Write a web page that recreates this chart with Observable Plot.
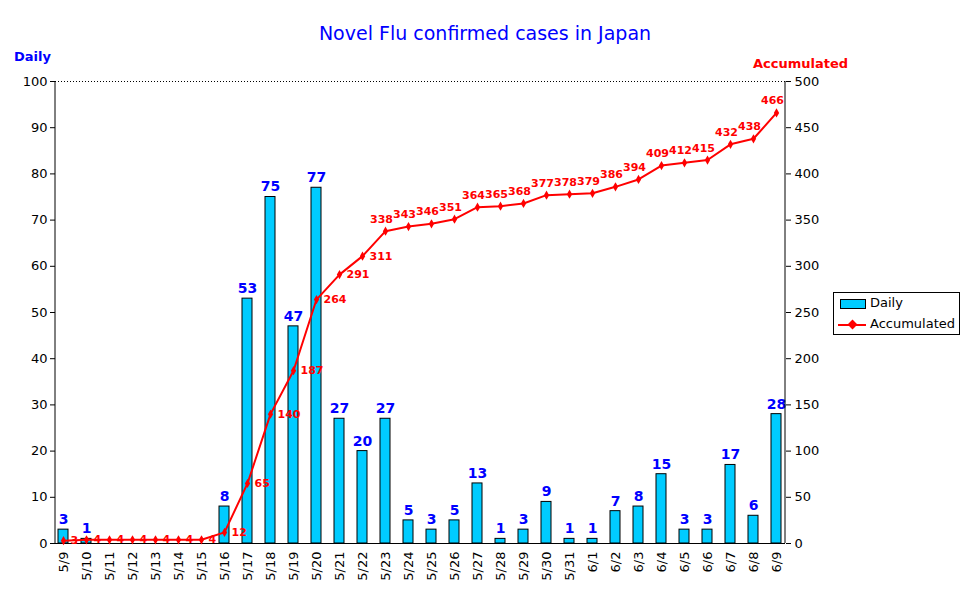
<!DOCTYPE html><html><head><meta charset="utf-8">
<script src="https://cdn.jsdelivr.net/npm/d3@7"></script>
<script src="https://cdn.jsdelivr.net/npm/@observablehq/plot@0.6"></script>
<style>body{margin:0;background:#fff;font-family:"DejaVu Sans",sans-serif}#w{position:relative;width:970px;height:604px}
.t{position:absolute;white-space:nowrap}</style></head><body><div id="w">
<div class="t" style="left:0;width:970px;top:22px;text-align:center;color:#0000ff;font-size:19px">Novel Flu confirmed cases in Japan</div>
<div class="t" style="left:14px;top:49px;color:#0000ff;font-size:13px;font-weight:bold">Daily</div>
<div class="t" style="left:753px;top:56px;color:#ff0000;font-size:13px;font-weight:bold">Accumulated</div>
<div class="t" style="left:833px;top:292px;width:125px;height:41px;border:1px solid #000;background:#fff;font-size:13px">
<div style="position:absolute;left:6px;top:6px;width:24px;height:8px;background:#00ccff;border:1px solid #000"></div><div style="position:absolute;left:36px;top:2px">Daily</div>
<div style="position:absolute;left:4px;top:31px;width:28px;height:2px;background:#f00"></div><div style="position:absolute;left:15px;top:28px;width:7px;height:7px;background:#f00;transform:rotate(45deg)"></div><div style="position:absolute;left:36px;top:23px">Accumulated</div>
</div>
<div id="c" style="position:absolute;left:0;top:0"></div></div>
<script>
const dates=["5/9","5/10","5/11","5/12","5/13","5/14","5/15","5/16","5/17","5/18","5/19","5/20","5/21","5/22","5/23","5/24","5/25","5/26","5/27","5/28","5/29","5/30","5/31","6/1","6/2","6/3","6/4","6/5","6/6","6/7","6/8","6/9"];
const daily=[3,1,0,0,0,0,0,8,53,75,47,77,27,20,27,5,3,5,13,1,3,9,1,1,7,8,15,3,3,17,6,28];
const accum=[3,4,4,4,4,4,4,12,65,140,187,264,291,311,338,343,346,351,364,365,368,377,378,379,386,394,409,412,415,432,438,466];
const data=dates.map((d,i)=>({d,v:daily[i],a:accum[i]/5,al:accum[i],i}));
const bars=data.filter(r=>r.v>0);
const right=data.filter(r=>r.i<=13), above=data.filter(r=>r.i>13);
const chart=Plot.plot({width:970,height:604,marginLeft:55,marginRight:185,marginTop:81,marginBottom:61,
 style:{fontFamily:"DejaVu Sans",fontSize:"13px",color:"#000"},
 x:{domain:dates,paddingInner:0.55,paddingOuter:0.1,label:null,tickSize:0},
 y:{domain:[0,100],ticks:d3.range(0,101,10),label:null},
 marks:[
  Plot.ruleY([100],{stroke:"#000",strokeDasharray:"1,2"}),
  Plot.axisY({anchor:"left",ticks:d3.range(0,101,10),tickSize:5,label:null,tickPadding:3,fontSize:13}),
  Plot.axisY({anchor:"right",ticks:d3.range(0,101,10),tickFormat:d=>d*5,tickSize:5,label:null,fontSize:13}),
  Plot.axisX({tickRotate:-90,tickSize:0,tickPadding:8,label:null,fontSize:13}),
  Plot.barY(bars,{x:"d",y:"v",fill:"#00ccff",stroke:"#000",strokeWidth:1}),
  Plot.ruleY([0],{stroke:"#000"}),
  Plot.text(bars,{x:"d",y:"v",text:"v",dy:-10,fill:"#0000ff",fontSize:14,fontWeight:"bold"}),
  Plot.line(data,{x:"d",y:"a",stroke:"#ff0000",strokeWidth:2}),
  Plot.dot(data,{x:"d",y:"a",fill:"#ff0000",r:2.8,symbol:"diamond"}),
  Plot.text(right,{x:"d",y:"a",text:"al",dx:7,textAnchor:"start",fill:"#ff0000",fontSize:11,fontWeight:"bold"}),
  Plot.text(above,{x:"d",y:"a",text:"al",dy:-12,dx:-4,fill:"#ff0000",fontSize:11,fontWeight:"bold"})
 ]});
const svg=d3.select(chart);
svg.append("line").attr("x1",55).attr("x2",55).attr("y1",81).attr("y2",543).attr("stroke","#000");
svg.append("line").attr("x1",785).attr("x2",785).attr("y1",81).attr("y2",543).attr("stroke","#000");
document.getElementById("c").appendChild(chart);
</script></body></html>
